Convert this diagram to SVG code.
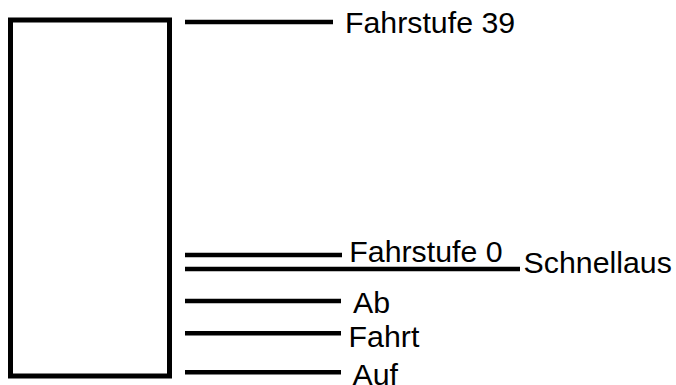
<svg xmlns="http://www.w3.org/2000/svg" width="676" height="385" viewBox="0 0 676 385">
  <style>
    .box { fill: #ffffff; stroke: #000000; stroke-width: 5; }
    .wire { stroke: #000000; stroke-width: 4.6; fill: none; }
    .lbl { font-family: "Liberation Sans", Arial, sans-serif; font-size: 30.3px; fill: #000000; }
  </style>
  <rect width="676" height="385" fill="#ffffff"/>
  <g id="controller">
    <rect class="box" x="10.5" y="20" width="159" height="356"/>
  </g>
  <g id="connectors">
    <line class="wire" x1="185" y1="22" x2="333" y2="22"/>
    <line class="wire" x1="185" y1="255" x2="342" y2="255"/>
    <line class="wire" x1="185" y1="269" x2="520" y2="269"/>
    <line class="wire" x1="185" y1="301" x2="341" y2="301"/>
    <line class="wire" x1="185" y1="333.3" x2="341" y2="333.3"/>
    <line class="wire" x1="185" y1="372.3" x2="341" y2="372.3"/>
  </g>
  <g id="label-fahrstufe-39"><text class="lbl" x="345" y="33.3">Fahrstufe 39</text></g>
  <g id="label-fahrstufe-0"><text class="lbl" x="349.3" y="261.7">Fahrstufe 0</text></g>
  <g id="label-schnellaus"><text class="lbl" x="523.6" y="273.3">Schnellaus</text></g>
  <g id="label-ab"><text class="lbl" x="353" y="313.3">Ab</text></g>
  <g id="label-fahrt"><text class="lbl" x="348.6" y="346.7">Fahrt</text></g>
  <g id="label-auf"><text class="lbl" x="352.5" y="385">Auf</text></g>
</svg>
